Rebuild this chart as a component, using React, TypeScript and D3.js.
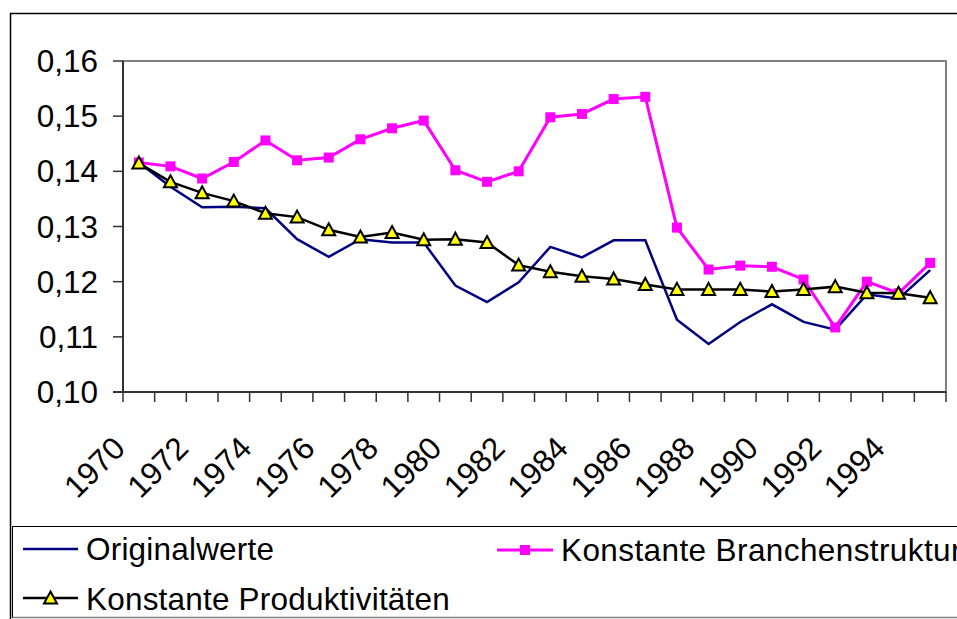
import React from "react";
import * as d3 from "d3";

const years = d3.range(1970, 1996).map(String);
const tickYears = ["1970", "1972", "1974", "1976", "1978", "1980", "1982", "1984", "1986", "1988", "1990", "1992", "1994"];
const yTicks = [0.1, 0.11, 0.12, 0.13, 0.14, 0.15, 0.16];

const originalwerte = [0.1416, 0.1372, 0.1335, 0.1336, 0.1333, 0.1277, 0.1245, 0.1277, 0.1271, 0.1271, 0.1193, 0.1163, 0.1199, 0.1263, 0.1244, 0.1275, 0.1275, 0.1131, 0.1087, 0.1127, 0.1159, 0.1127, 0.1113, 0.1177, 0.1169, 0.1221];
const branchenstruktur = [0.1416, 0.1409, 0.1387, 0.1417, 0.1456, 0.142, 0.1425, 0.1458, 0.1478, 0.1492, 0.1402, 0.1381, 0.14, 0.1498, 0.1504, 0.1531, 0.1535, 0.1298, 0.1222, 0.1229, 0.1227, 0.1204, 0.1117, 0.12, 0.1179, 0.1234];
const produktivitaeten = [0.1415, 0.1381, 0.1361, 0.1346, 0.1324, 0.1317, 0.1294, 0.1281, 0.1289, 0.1276, 0.1277, 0.1271, 0.123, 0.1218, 0.121, 0.1205, 0.1195, 0.1186, 0.1186, 0.1186, 0.1182, 0.1186, 0.1191, 0.118, 0.1179, 0.1171];

const W = 957;
const H = 619;
const plot = { left: 123, right: 946, top: 61, bottom: 392 };
const font = "Arial, 'Liberation Sans', sans-serif";
const fs = 31.5;

const comma = d3.formatLocale({ decimal: ",", thousands: ".", grouping: [3], currency: ["", "€"] }).format(".2f");

const tri = "M0,-6.5L6.5,5.5L-6.5,5.5Z";

export default function App() {
  const x = d3.scaleBand<string>().domain(years).range([plot.left, plot.right]).padding(0);
  const y = d3.scaleLinear().domain([0.1, 0.16]).range([plot.bottom, plot.top]);
  const cx = (i: number) => (x(years[i]) as number) + x.bandwidth() / 2;
  const line = d3
    .line<number>()
    .x((_, i) => cx(i))
    .y((d) => y(d));

  const bounds = d3.range(0, years.length + 1).map((i) => plot.left + i * x.bandwidth());

  return (
    <div style={{ position: "absolute", left: 0, top: 0 }}>
      <svg width={W} height={H} style={{ display: "block", fontFamily: font }}>
        <rect x={0} y={0} width={W} height={H} fill="#fff" />
        {/* outer chart border */}
        <rect x={10.5} y={13.5} width={W} height={H} fill="none" stroke="#000" strokeWidth={1.5} />

        {/* plot frame */}
        <rect
          x={plot.left}
          y={plot.top}
          width={plot.right - plot.left}
          height={plot.bottom - plot.top}
          fill="#fff"
          stroke="#808080"
          strokeWidth={2}
        />
        <line x1={plot.left} x2={plot.left} y1={plot.top} y2={plot.bottom} stroke="#333" strokeWidth={2} />
        <line x1={plot.left - 10} x2={plot.right} y1={plot.bottom} y2={plot.bottom} stroke="#333" strokeWidth={2} />

        {/* y axis */}
        {yTicks.map((t) => (
          <g key={t}>
            <line x1={plot.left - 10} x2={plot.left} y1={y(t)} y2={y(t)} stroke="#333" strokeWidth={1.5} />
            <text x={98} y={y(t) + 11} textAnchor="end" fontSize={fs} fill="#000">
              {comma(t)}
            </text>
          </g>
        ))}

        {/* x axis */}
        {bounds.map((b, i) => (
          <line key={i} x1={b} x2={b} y1={plot.bottom} y2={plot.bottom + 10} stroke="#333" strokeWidth={1.5} />
        ))}
        {tickYears.map((yr) => {
          const px = (x(yr) as number) + x.bandwidth() / 2 - 12;
          const py = 450;
          return (
            <text key={yr} x={px} y={py} textAnchor="end" fontSize={fs} transform={`rotate(-45 ${px} ${py})`}>
              {yr}
            </text>
          );
        })}

        {/* series */}
        <path d={line(originalwerte) || ""} fill="none" stroke="#000080" strokeWidth={2.5} strokeLinejoin="miter" />
        <path d={line(branchenstruktur) || ""} fill="none" stroke="#ff00ff" strokeWidth={3} />
        {branchenstruktur.map((d, i) => (
          <rect key={i} x={cx(i) - 5} y={y(d) - 5} width={10} height={10} fill="#ff00ff" />
        ))}
        <path d={line(produktivitaeten) || ""} fill="none" stroke="#000" strokeWidth={2.5} />
        {produktivitaeten.map((d, i) => (
          <path key={i} d={tri} transform={`translate(${cx(i)},${y(d)})`} fill="#ffff00" stroke="#000" strokeWidth={2} strokeLinejoin="miter" />
        ))}

        {/* legend */}
        <rect x={12.5} y={526.5} width={W} height={91} fill="#fff" stroke="#000" strokeWidth={1} />
        <line x1={12.5} x2={W} y1={617.5} y2={617.5} stroke="#808080" strokeWidth={1.5} />

        <line x1={23} x2={78} y1={549} y2={549} stroke="#000080" strokeWidth={2.5} />
        <text x={86} y={560} fontSize={fs} letterSpacing={0.2}>Originalwerte</text>

        <line x1={497} x2={553} y1={550} y2={550} stroke="#ff00ff" strokeWidth={3} />
        <rect x={520} y={545} width={10} height={10} fill="#ff00ff" />
        <text x={561} y={561} fontSize={fs} letterSpacing={0.4}>Konstante Branchenstruktur</text>

        <line x1={23} x2={78} y1={598} y2={598} stroke="#000" strokeWidth={2.5} />
        <path d={tri} transform="translate(50.5,598)" fill="#ffff00" stroke="#000" strokeWidth={2} />
        <text x={86} y={610} fontSize={fs} letterSpacing={0.2}>Konstante Produktivitäten</text>
      </svg>
    </div>
  );
}
